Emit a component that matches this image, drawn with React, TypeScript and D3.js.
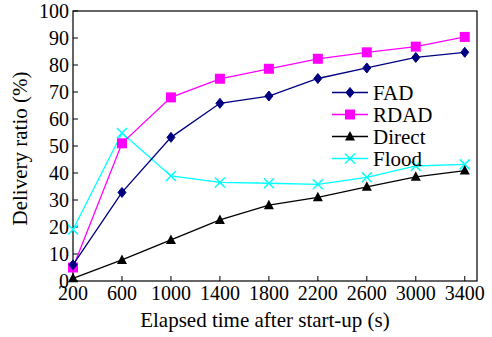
import React, { useRef, useEffect } from "react";
import * as d3 from "d3";

const times = [200, 600, 1000, 1400, 1800, 2200, 2600, 3000, 3400];
const fad = [6, 32.8, 53.2, 65.8, 68.5, 75, 78.9, 82.8, 84.7];
const rdad = [5, 51, 68, 74.9, 78.6, 82.3, 84.7, 86.8, 90.4];
const direct = [1, 7.8, 15.2, 22.6, 28.1, 31, 34.9, 38.6, 40.9];
const flood = [19.1, 54.8, 38.9, 36.5, 36.2, 35.8, 38.4, 42.6, 43.2];
const yTicks = [0, 10, 20, 30, 40, 50, 60, 70, 80, 90, 100];

const seriesList = [
  { name: "FAD", values: fad, color: "#000080", marker: "diamond" },
  { name: "RDAD", values: rdad, color: "#ff00ff", marker: "square" },
  { name: "Direct", values: direct, color: "#000000", marker: "triangle" },
  { name: "Flood", values: flood, color: "#00ffff", marker: "cross" },
];

const App: React.FC = () => {
  const svgRef = useRef<SVGSVGElement>(null);

  useEffect(() => {
    if (!svgRef.current) return;
    const width = 492;
    const height = 337;
    const margin = { top: 11, right: 15, bottom: 56, left: 73 };

    const svg = d3.select(svgRef.current);
    svg.selectAll("*").remove();

    const x = d3
      .scaleLinear()
      .domain([200, 3500])
      .range([margin.left, width - margin.right]);
    const y = d3
      .scaleLinear()
      .domain([0, 100])
      .range([height - margin.bottom, margin.top]);

    const x0 = margin.left;
    const x1 = width - margin.right;
    const y0 = height - margin.bottom;
    const y1 = margin.top;

    // frame
    svg
      .append("rect")
      .attr("x", x0)
      .attr("y", y1)
      .attr("width", x1 - x0)
      .attr("height", y0 - y1)
      .attr("fill", "none")
      .attr("stroke", "#000")
      .attr("stroke-width", 1.2);

    // y ticks (inward)
    const gy = svg.append("g");
    gy.selectAll("line")
      .data(yTicks)
      .join("line")
      .attr("x1", x0)
      .attr("x2", x0 + 5)
      .attr("y1", (d) => y(d))
      .attr("y2", (d) => y(d))
      .attr("stroke", "#000");
    gy.selectAll("text")
      .data(yTicks)
      .join("text")
      .attr("x", x0 - 4)
      .attr("y", (d) => y(d))
      .attr("dy", "0.35em")
      .attr("text-anchor", "end")
      .attr("font-size", 20)
      .text((d) => d);

    // x ticks (inward)
    const gx = svg.append("g");
    gx.selectAll("line")
      .data(times)
      .join("line")
      .attr("x1", (d) => x(d))
      .attr("x2", (d) => x(d))
      .attr("y1", y0)
      .attr("y2", y0 - 5)
      .attr("stroke", "#000");
    gx.selectAll("text")
      .data(times)
      .join("text")
      .attr("x", (d) => x(d))
      .attr("y", y0 + 19)
      .attr("text-anchor", "middle")
      .attr("font-size", 20)
      .text((d) => d);

    // axis titles
    svg
      .append("text")
      .attr("x", 265)
      .attr("y", 327)
      .attr("text-anchor", "middle")
      .attr("font-size", 21)
      .text("Elapsed time after start-up (s)");
    svg
      .append("text")
      .attr("transform", `translate(27,148.5) rotate(-90)`)
      .attr("text-anchor", "middle")
      .attr("font-size", 21)
      .text("Delivery ratio (%)");

    const line = d3
      .line<number>()
      .x((d, i) => x(times[i]))
      .y((d) => y(d));

    function drawMarker(g: any, kind: string, color: string) {
      if (kind === "diamond") {
        g.append("path")
          .attr("d", "M0,-5L4,0L0,5L-4,0Z")
          .attr("fill", color)
          .attr("stroke", color);
      } else if (kind === "square") {
        g.append("rect")
          .attr("x", -5)
          .attr("y", -5)
          .attr("width", 10)
          .attr("height", 10)
          .attr("fill", color);
      } else if (kind === "triangle") {
        g.append("path")
          .attr("d", "M0,-5.5L5,4L-5,4Z")
          .attr("fill", color);
      } else {
        g.append("path")
          .attr("d", "M-5,-5L5,5M-5,5L5,-5")
          .attr("stroke", color)
          .attr("stroke-width", 1.5)
          .attr("fill", "none");
      }
    }

    // draw in reverse so FAD sits on top
    [...seriesList].reverse().forEach((s) => {
      const g = svg.append("g");
      g.append("path")
        .datum(s.values)
        .attr("d", line)
        .attr("fill", "none")
        .attr("stroke", s.color)
        .attr("stroke-width", 1.3);
      s.values.forEach((v, i) => {
        const m = g
          .append("g")
          .attr("transform", `translate(${x(times[i])},${y(v)})`);
        drawMarker(m, s.marker, s.color);
      });
    });

    // legend
    const lg = svg.append("g");
    seriesList.forEach((s, i) => {
      const ly = 92.5 + i * 22;
      lg.append("line")
        .attr("x1", 332)
        .attr("x2", 368)
        .attr("y1", ly)
        .attr("y2", ly)
        .attr("stroke", s.color)
        .attr("stroke-width", 1.3);
      const m = lg.append("g").attr("transform", `translate(350,${ly})`);
      drawMarker(m, s.marker, s.color);
      lg.append("text")
        .attr("x", 373)
        .attr("y", ly)
        .attr("dy", "0.35em")
        .attr("font-size", 21)
        .text(s.name);
    });

    return () => {
      svg.selectAll("*").remove();
    };
  }, []);

  return (
    <svg
      ref={svgRef}
      width={492}
      height={337}
      fontFamily="Liberation Serif, DejaVu Serif, serif"
      style={{ position: "absolute", left: 0, top: 0, background: "#fff" }}
    ></svg>
  );
};

export default App;
